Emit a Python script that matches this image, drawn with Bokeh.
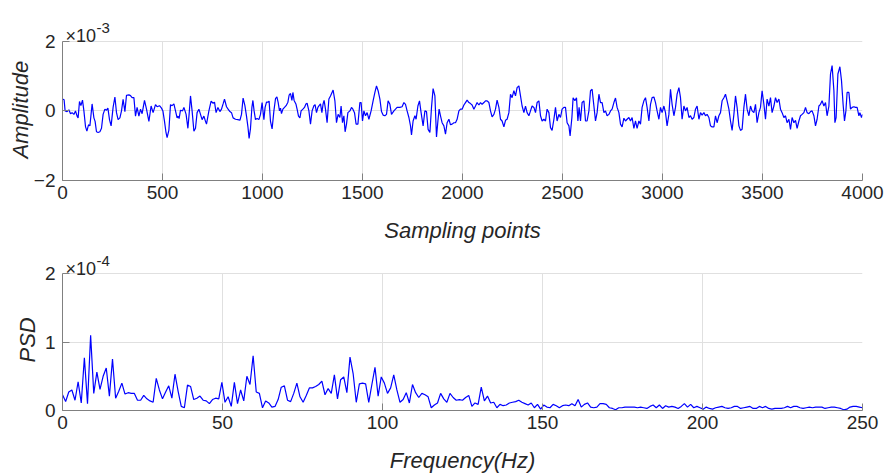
import numpy as np
from bokeh.plotting import figure
from bokeh.layouts import column
from bokeh.models import Range1d, FixedTicker, Label, Title
from bokeh.embed import file_html
from bokeh.resources import INLINE

# ---------------- time signal (amplitude in units of 1e-3) ----------------
sample_idx_a = [0, 8, 13, 23, 32, 40, 48, 57, 65, 73,
                78, 85, 92, 100, 107, 115, 122, 130, 137, 148,
                157, 163, 170, 178, 187, 195, 203, 212, 220, 227,
                235, 243, 253, 262, 270, 278, 287, 295, 303, 312,
                320, 332, 340, 348, 357, 365, 373, 382, 390, 398,
                410, 420, 432, 443, 453, 465, 473, 485, 495, 502,
                510, 517, 523, 532, 540, 548, 557, 565, 573, 578,
                583, 590, 600, 607, 618, 627, 633, 640, 648, 657,
                665, 673, 682, 690, 698, 707, 715, 720, 732, 743,
                753, 760, 768, 777, 787, 795, 803, 810, 820, 828,
                837, 845, 853, 865, 877, 887, 895, 903, 912, 920,
                927, 933, 940, 947, 952, 958, 965, 973, 982, 990,
                998, 1007, 1013, 1020, 1027, 1033, 1040, 1048, 1057, 1065,
                1072, 1078, 1085, 1090, 1095, 1102, 1110, 1118, 1127, 1133,
                1140, 1147, 1152, 1158, 1167, 1173, 1180, 1187, 1193, 1202,
                1210, 1217, 1223, 1232, 1240, 1248, 1257, 1263, 1270, 1277,
                1283, 1290, 1297, 1303, 1308, 1315]
amplitude_a = [0.34, 0.32, 0.0, -0.02, 0.03, -0.08, -0.05, -0.1, 0.0, -0.15,
               -0.2, 0.27, 0.15, 0.31, 0.0, -0.45, -0.58, -0.4, -0.43, 0.2,
               -0.2, -0.3, -0.6, -0.62, -0.6, -0.5, -0.1, 0.05, 0.02, 0.08,
               -0.25, -0.43, 0.1, 0.4, -0.05, -0.25, -0.2, 0.0, 0.33, -0.02,
               0.45, 0.46, 0.44, 0.38, 0.38, -0.15, 0.1, -0.15, 0.05, -0.08,
               0.3, 0.05, -0.3, 0.14, -0.05, 0.18, 0.12, 0.15, 0.08, 0.0,
               -0.3, -0.6, -0.77, -0.55, 0.18, 0.15, 0.2, 0.0, -0.2, -0.15,
               -0.22, 0.02, 0.0, 0.1, -0.1, -0.5, -0.1, 0.43, 0.0, -0.58,
               -0.5, -0.05, 0.05, -0.1, -0.25, -0.15, -0.3, -0.38, 0.0, 0.28,
               0.22, 0.25, -0.05, 0.1, -0.02, 0.05, 0.2, 0.34, 0.12, 0.05,
               -0.02, -0.05, -0.2, -0.24, -0.25, -0.27, -0.1, 0.37, 0.15, -0.15,
               -0.45, -0.79, -0.5, 0.1, 0.3, 0.0, -0.25, -0.22, -0.25, -0.1,
               0.24, -0.25, 0.1, 0.25, 0.25, 0.28, -0.3, -0.52, 0.0, 0.35,
               0.4, 0.25, 0.0, 0.08, -0.08, 0.05, 0.1, 0.15, 0.25, 0.45,
               0.5, 0.3, 0.53, 0.3, 0.2, 0.05, -0.15, -0.2, 0.0, 0.05,
               0.1, 0.2, 0.22, 0.0, -0.38, 0.0, 0.15, 0.18, -0.05, 0.1,
               0.15, 0.2, -0.05, 0.2, 0.3, 0.05]

sample_idx_b = [1323, 1332, 1340, 1353, 1362, 1370, 1378, 1387, 1393, 1400,
                1407, 1413, 1420, 1427, 1437, 1445, 1452, 1460, 1468, 1477,
                1487, 1493, 1500, 1507, 1515, 1523, 1532, 1543, 1553, 1562,
                1570, 1578, 1587, 1595, 1603, 1612, 1620, 1628, 1637, 1645,
                1657, 1665, 1673, 1687, 1698, 1707, 1715, 1723, 1732, 1740,
                1745, 1753, 1762, 1768, 1777, 1785, 1793, 1803, 1812, 1820,
                1828, 1837, 1845, 1853, 1862, 1870, 1877, 1883, 1890, 1898,
                1907, 1915, 1923, 1932, 1940, 1948, 1957, 1965, 1973, 1982,
                1990, 1998, 2007, 2015, 2023, 2032, 2040, 2048, 2057, 2065,
                2073, 2082, 2090, 2098, 2107, 2115, 2123, 2132, 2140, 2148,
                2157, 2165, 2173, 2182, 2190, 2198, 2207, 2215, 2223, 2232,
                2240, 2248, 2257, 2265, 2273, 2282, 2290, 2298, 2307, 2315,
                2323, 2332, 2340, 2348, 2357, 2365, 2373, 2382, 2390, 2398,
                2407, 2415, 2423, 2432, 2440, 2448, 2457, 2465, 2473, 2482,
                2490, 2498, 2507, 2515, 2523, 2532, 2538, 2547, 2553, 2562,
                2570, 2577, 2583]
amplitude_b = [-0.34, 0.34, 0.43, 0.60, 0.29, -0.34, -0.10, -0.19, 0.14, -0.34,
               -0.14, -0.60, -0.38, -0.05, 0.0, 0.10, 0.05, -0.05, -0.38, -0.38,
               0.24, 0.24, -0.29, 0.0, -0.14, -0.05, -0.24, 0.0, 0.29, 0.53,
               0.72, 0.58, 0.34, -0.02, -0.12, -0.14, -0.10, 0.29, 0.19, -0.10,
               0.0, 0.05, 0.10, 0.10, 0.12, 0.24, 0.19, 0.0, -0.19, -0.43,
               -0.69, -0.29, -0.14, -0.24, 0.14, 0.29, -0.05, -0.43, 0.0, -0.02,
               -0.53, -0.62, 0.10, 0.64, 0.43, -0.75, -0.29, 0.05, -0.14, -0.34,
               -0.43, -0.67, -0.34, -0.24, -0.40, -0.38, -0.34, -0.34, -0.24, 0.0,
               0.05, 0.05, 0.17, 0.24, 0.31, 0.24, 0.21, 0.17, 0.05, 0.14,
               0.24, 0.17, 0.24, 0.19, 0.24, 0.29, 0.29, 0.24, 0.0, -0.17,
               -0.10, 0.05, 0.31, 0.10, -0.24, -0.29, -0.46, -0.27, -0.24, -0.05,
               0.48, 0.38, 0.58, 0.43, 0.67, 0.72, 0.43, 0.14, -0.05, 0.14,
               -0.05, -0.14, 0.0, 0.14, 0.10, -0.05, 0.24, 0.29, -0.14, -0.29,
               -0.24, -0.29, 0.05, -0.05, -0.48, -0.56, -0.24, 0.10, -0.29, -0.10,
               -0.19, 0.05, 0.10, 0.10, -0.34, -0.43, -0.72, -0.19, 0.38, 0.29,
               0.38, -0.29, 0.10]

sample_idx_c = [2590, 2598, 2607, 2615, 2623, 2632, 2640, 2648, 2657, 2665,
                2673, 2682, 2690, 2698, 2707, 2715, 2723, 2732, 2740, 2748,
                2757, 2765, 2773, 2782, 2790, 2798, 2807, 2815, 2823, 2832,
                2840, 2848, 2857, 2865, 2873, 2882, 2890, 2898, 2907, 2915,
                2923, 2932, 2940, 2948, 2957, 2965, 2973, 2982, 2990, 2998,
                3007, 3015, 3023, 3032, 3040, 3048, 3057, 3065, 3073, 3082,
                3090, 3098, 3107, 3115, 3123, 3132, 3140, 3148, 3157, 3165,
                3173, 3182, 3190, 3198, 3207, 3215, 3223, 3232, 3240, 3248,
                3257, 3265, 3273, 3282, 3290, 3298, 3307, 3315, 3323, 3332,
                3340, 3348, 3357, 3365, 3373, 3382, 3390, 3398, 3407, 3415,
                3423, 3432, 3440, 3448, 3457, 3465, 3473, 3482, 3490, 3498,
                3507, 3515, 3523, 3532, 3540, 3548, 3557, 3565, 3573, 3582,
                3590, 3598, 3607, 3615, 3623, 3632, 3640, 3648, 3657, 3665,
                3673, 3682, 3690, 3698, 3707, 3715, 3723, 3732, 3740, 3748,
                3757, 3765, 3773, 3782, 3790, 3798, 3807, 3815, 3823, 3832,
                3840, 3848, 3857, 3862, 3868, 3877, 3887, 3895, 3903, 3910,
                3917, 3923, 3932, 3940, 3948, 3957, 3965, 3973, 3982, 3987,
                3995, 4000]
amplitude_c = [-0.29, 0.24, 0.29, -0.29, -0.29, 0.0, 0.58, 0.62, 0.14, -0.29,
               -0.05, 0.48, 0.24, 0.24, -0.05, 0.0, -0.14, -0.10, 0.0, 0.05,
               0.24, 0.37, 0.10, -0.05, -0.38, -0.46, -0.21, -0.29, -0.24, -0.19,
               -0.29, -0.19, -0.50, -0.29, -0.50, -0.29, -0.38, 0.10, 0.29, 0.38,
               0.10, -0.29, 0.19, 0.38, 0.40, 0.24, 0.0, -0.24, 0.10, -0.05,
               0.14, -0.05, -0.43, -0.10, 0.62, 0.19, -0.14, 0.10, 0.48, 0.67,
               0.38, -0.24, 0.14, 0.0, 0.10, -0.19, -0.14, -0.24, -0.19, 0.05,
               0.14, -0.24, -0.05, -0.12, -0.05, -0.14, -0.10, -0.19, -0.43, -0.46,
               -0.46, -0.14, -0.34, -0.14, -0.05, 0.29, 0.38, 0.48, 0.29, 0.05,
               -0.29, -0.56, -0.10, 0.43, 0.10, -0.43, -0.56, -0.53, 0.10, 0.48,
               0.05, -0.14, 0.14, 0.0, -0.05, 0.19, -0.34, -0.05, 0.10, 0.58,
               0.19, -0.24, 0.34, 0.14, 0.38, -0.05, 0.14, 0.38, 0.24, 0.34,
               0.05, -0.05, -0.19, -0.14, -0.34, -0.24, -0.53, -0.19, -0.34, -0.27,
               -0.50, -0.29, -0.14, -0.10, -0.05, 0.10, -0.05, -0.08, -0.02, 0.0,
               -0.14, -0.43, -0.24, 0.14, 0.19, 0.29, 0.14, 0.24, -0.14, 0.14,
               1.06, 1.30, 0.58, -0.34, -0.19, 1.06, 1.27, 0.87, 0.19, -0.29,
               0.0, 0.53, 0.53, 0.05, 0.10, 0.12, 0.10, 0.10, -0.14, -0.05,
               -0.19, -0.10]

# ---------------- PSD (units of 1e-4), bins of 1000/1024 Hz ----------------
psd_a = [0.23, 0.13, 0.27, 0.30, 0.15, 0.42, 0.11, 0.77, 0.10, 1.10,
         0.25, 0.56, 0.31, 0.50, 0.62, 0.21, 0.75, 0.18, 0.28, 0.40,
         0.24, 0.26, 0.25, 0.25, 0.15, 0.15, 0.22, 0.17, 0.14, 0.12,
         0.47, 0.30, 0.17, 0.27, 0.36, 0.18, 0.53, 0.28, 0.06, 0.04,
         0.37, 0.35, 0.16, 0.18]
psd_b = [0.21, 0.15, 0.14, 0.10, 0.16, 0.18, 0.17, 0.41, 0.12, 0.20,
         0.06, 0.41, 0.10, 0.30, 0.14, 0.50, 0.38, 0.80, 0.27, 0.25,
         0.04, 0.14, 0.11, 0.05, 0.06, 0.16, 0.34, 0.36, 0.15, 0.13,
         0.25, 0.40, 0.20, 0.12, 0.22, 0.33, 0.33, 0.35, 0.38, 0.43,
         0.23, 0.32, 0.25]
psd_c = [0.52, 0.17, 0.45, 0.49, 0.26, 0.78, 0.54, 0.12, 0.39, 0.40,
         0.39, 0.12, 0.38, 0.63, 0.21, 0.49, 0.40, 0.25, 0.33, 0.52,
         0.30, 0.12, 0.16, 0.26, 0.11, 0.38, 0.26, 0.19, 0.25, 0.23,
         0.20, 0.04, 0.08, 0.11, 0.25, 0.17, 0.12, 0.25, 0.19, 0.15,
         0.16, 0.15, 0.19, 0.22, 0.06]
psd_d = [0.11, 0.09, 0.34, 0.14, 0.21, 0.11, 0.12, 0.04, 0.09, 0.07,
         0.08, 0.11, 0.12, 0.13, 0.15, 0.12, 0.10, 0.08, 0.11, 0.04,
         0.09, 0.02, 0.08, 0.05, 0.04, 0.09, 0.07, 0.04, 0.07, 0.08,
         0.07, 0.10, 0.07, 0.16, 0.05, 0.09, 0.11, 0.05, 0.04, 0.05,
         0.10, 0.10, 0.09, 0.04]
psd_e = [0.03, 0.01, 0.04, 0.04, 0.05, 0.05, 0.05, 0.05, 0.04, 0.05,
         0.04, 0.03, 0.06, 0.08, 0.04, 0.08, 0.03, 0.07, 0.05, 0.06,
         0.05, 0.03, 0.06, 0.10, 0.05, 0.09, 0.04, 0.06, 0.04, 0.02,
         0.05, 0.03, 0.02, 0.04, 0.05, 0.06, 0.04, 0.03, 0.04, 0.06,
         0.06, 0.03, 0.04, 0.05, 0.06, 0.03, 0.03, 0.06, 0.04, 0.06,
         0.03, 0.02, 0.03, 0.03, 0.03, 0.04, 0.06, 0.04, 0.06, 0.06,
         0.04, 0.03, 0.04, 0.05, 0.04, 0.05, 0.05, 0.05, 0.03, 0.04,
         0.05, 0.05, 0.04, 0.03, 0.01, 0.02, 0.05, 0.06, 0.06, 0.05,
         0.04]
FS = 1000.0
NFFT = 1024

# ticks / axis limits
top_xticks = [0, 500, 1000, 1500, 2000, 2500, 3000, 3500, 4000]
top_yticks = [-2, 0, 2]
bot_xticks = [0, 50, 100, 150, 200, 250]
bot_yticks = [0, 1, 2]
top_exponent = "-3"
bot_exponent = "-4"

sample_idx = sample_idx_a + sample_idx_b + sample_idx_c
amplitude = amplitude_a + amplitude_b + amplitude_c
psd = psd_a + psd_b + psd_c + psd_d + psd_e
freq = np.arange(len(psd)) * FS / NFFT

FONT = "Liberation Sans"
TEXT = "#262626"
AXIS = "#808080"
GRID = "#e0e0e0"
BLUE = "#0000ff"
W = 885


def make_panel(height, top, bottom, y_end, xticks, yticks, xlabel, ylabel,
               exp_text, ylabel_lift, ylabel_standoff):
    lo, hi = yticks[0], yticks[-1]
    p = figure(width=W, height=height, output_backend="svg", toolbar_location=None,
               x_range=Range1d(xticks[0], xticks[-1]),
               y_range=Range1d(lo, y_end),
               min_border_left=62, min_border_right=23, min_border_top=top,
               min_border_bottom=bottom)
    p.xaxis.ticker = FixedTicker(ticks=xticks)
    p.yaxis.ticker = FixedTicker(ticks=yticks)
    p.yaxis.bounds = (lo, hi)
    for ax in (p.xaxis[0], p.yaxis[0]):
        ax.axis_line_color = AXIS
        ax.major_tick_line_color = AXIS
        ax.major_tick_in = 7
        ax.major_tick_out = 0
        ax.minor_tick_line_color = None
        ax.major_label_text_font = FONT
        ax.major_label_text_font_size = "19px"
        ax.major_label_text_color = TEXT
        ax.axis_label_text_font = FONT
        ax.axis_label_text_font_size = "22px"
        ax.axis_label_text_font_style = "italic"
        ax.axis_label_text_color = TEXT
    p.xaxis.axis_label = xlabel
    p.xaxis.major_label_standoff = 5
    p.yaxis.major_label_standoff = 7
    p.xaxis.axis_label_standoff = 16
    p.grid.grid_line_color = GRID
    p.xgrid.cross_bounds = (lo, hi)
    p.outline_line_color = None
    p.background_fill_color = "white"
    p.border_fill_color = "white"

    # y label as a left title; its start is lifted from the frame bottom so that
    # it sits centred on the lo..hi span like the reference
    p.add_layout(Title(text=ylabel, align="left", offset=ylabel_lift,
                       standoff=ylabel_standoff,
                       text_font=FONT, text_font_size="22px", text_font_style="italic",
                       text_color=TEXT), "left")

    # MATLAB-style exponent text sitting just above the top-left corner
    p.add_layout(Label(x=xticks[0], y=hi, x_offset=3, y_offset=5, text="×10",
                       text_font=FONT, text_font_size="18px", text_color=TEXT,
                       text_baseline="alphabetic"))
    p.add_layout(Label(x=xticks[0], y=hi, x_offset=34, y_offset=13, text=exp_text,
                       text_font=FONT, text_font_size="15px", text_color=TEXT,
                       text_baseline="alphabetic"))
    return p


p1 = make_panel(245, 6, 65, 3.0, top_xticks, top_yticks,
                "Sampling points", "Amplitude", top_exponent, 22, -4)
p1.line(sample_idx, amplitude, line_color=BLUE, line_width=1.2)

p2 = make_panel(230, 0, 62, 2.41, bot_xticks, bot_yticks,
                "Frequency(Hz)", "PSD", bot_exponent, 48, 4)
p2.line(freq, psd, line_color=BLUE, line_width=1.2)

layout = column(p1, p2, spacing=0)
open("out.html", "w").write(file_html(layout, INLINE))
